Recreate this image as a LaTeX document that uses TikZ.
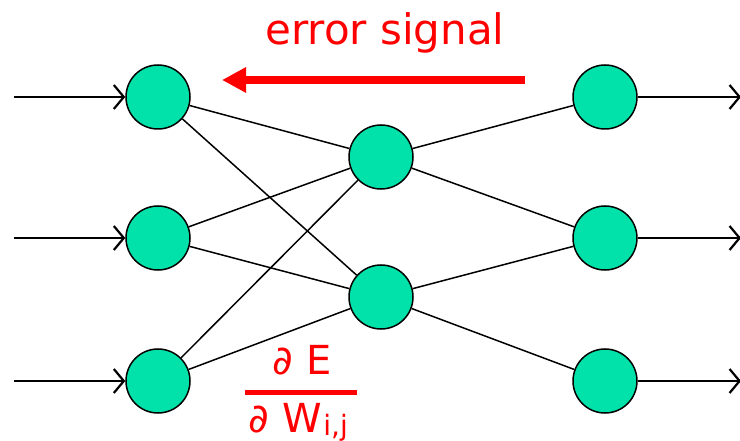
\documentclass[tikz,border=0pt]{standalone}
\usepackage{fontspec}
\setmainfont{DejaVu Sans}
\usetikzlibrary{arrows.meta}
\definecolor{neuron}{RGB}{0,226,170}
\definecolor{errred}{RGB}{255,0,0}
\begin{document}
\begin{tikzpicture}[x=1pt,y=-1pt,
  neuronnode/.style={circle,draw=black,line width=1.5pt,fill=neuron,minimum size=64pt,inner sep=0pt},
  link/.style={line width=1.5pt},
  inarrow/.style={line width=2.2pt,-{Straight Barb[length=10pt,width=24pt,line width=2.2pt]}},
  redtxt/.style={text=errred,inner sep=0pt}]
\useasboundingbox (0,0) rectangle (740,441);
\node[neuronnode] (l1) at (158,97) {};
\node[neuronnode] (l2) at (158,238) {};
\node[neuronnode] (l3) at (158,381) {};
\node[neuronnode] (m1) at (381,157) {};
\node[neuronnode] (m2) at (381,297) {};
\node[neuronnode] (r1) at (605,97) {};
\node[neuronnode] (r2) at (605,238) {};
\node[neuronnode] (r3) at (605,381) {};
\coordinate (i1) at (14,97);
\coordinate (i2) at (14,238);
\coordinate (i3) at (14,381);
\coordinate (o1) at (741,97);
\coordinate (o2) at (741,238);
\coordinate (o3) at (741,381);
\foreach \n in {1,2,3}{
  \draw[inarrow] (i\n) -- (l\n);
  \draw[inarrow] (r\n) -- (o\n);
}
\foreach \a in {l1,l2,l3}{
  \foreach \b in {m1,m2}{ \draw[link] (\a) -- (\b); }
}
\draw[link] (m1) -- (r1);
\draw[link] (m1) -- (r2);
\draw[link] (m2) -- (r2);
\draw[link] (m2) -- (r3);
\coordinate (es) at (525,80);
\coordinate (ee) at (222,80);
\draw[errred,line width=8pt,-{Triangle[length=24pt,width=24pt]}] (es) -- (ee);
\node[redtxt,font=\fontsize{42}{46}\selectfont] (etxt) at (385,33) {error signal};
\node[redtxt,font=\fontsize{40}{44}\selectfont] (num) at (302,360) {∂ E};
\coordinate (b1) at (245,392);
\coordinate (b2) at (357,392);
\draw[errred,line width=5pt] (b1) -- (b2);
\node[redtxt,font=\fontsize{40}{44}\selectfont,anchor=west] (den) at (248,422) {∂\hspace{14pt}W\hspace{1pt}\raisebox{-0.15ex}{\fontsize{28}{30}\selectfont i,j}};
\end{tikzpicture}
\end{document}
